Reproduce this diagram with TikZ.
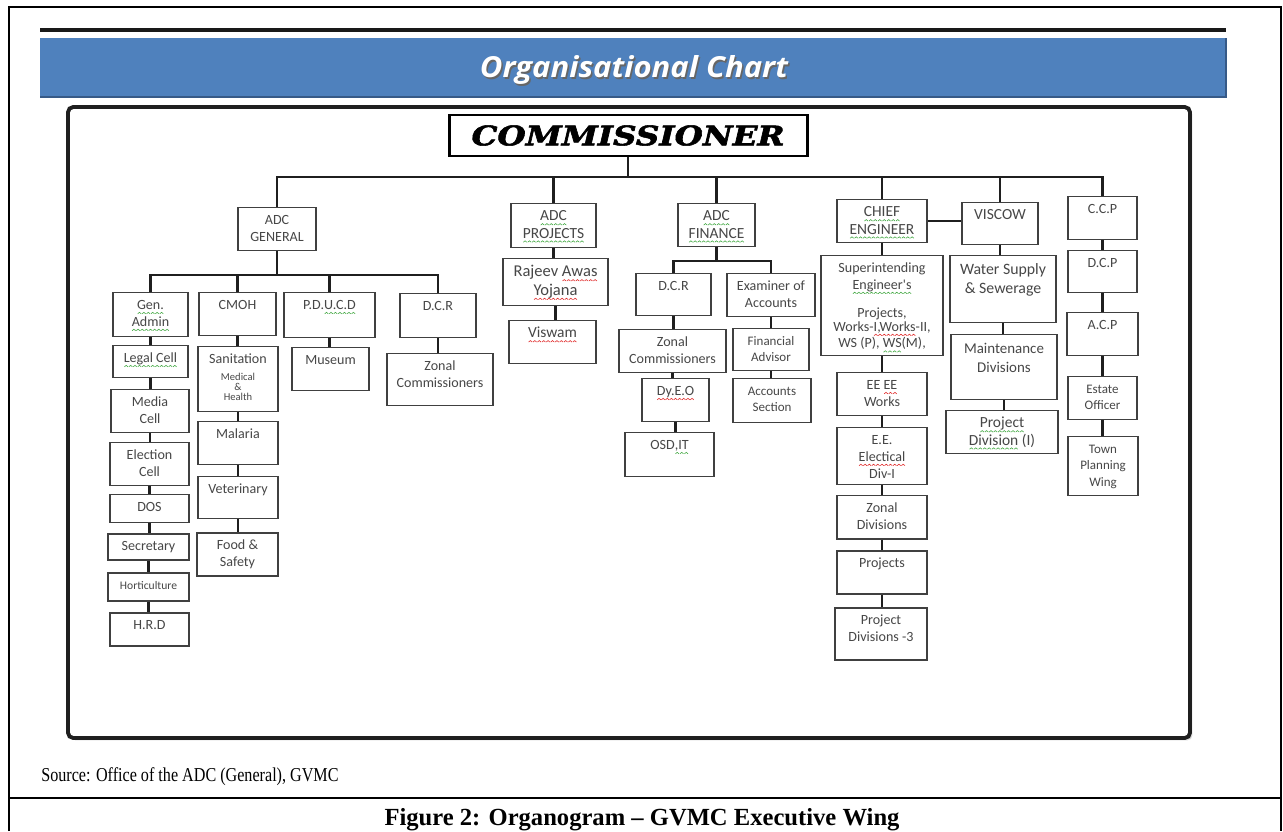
\documentclass[tikz,border=0pt]{standalone}
\usepackage{fontspec}
\usepackage{graphicx}
\usetikzlibrary{shadows}
\setmainfont{Liberation Serif}
\newfontfamily\unitfont{Carlito}
\newfontfamily\bannerfont{Open Sans}
\newfontfamily\commfont[BoldItalicFeatures={FakeBold=2}]{DejaVu Serif}
\definecolor{bannerBlue}{RGB}{79,129,189}
\definecolor{bannerEdge}{RGB}{55,90,135}
\colorlet{boxGray}{black!75}
\colorlet{textGray}{black!72}
\colorlet{lineDark}{black!88}
\definecolor{squigGreen}{RGB}{70,170,70}
\definecolor{squigRed}{RGB}{225,45,45}
\newlength{\px}\setlength{\px}{0.02cm}
% box text sits at the top of each cell
\newcommand{\orgcell}[3]{\parbox[t][#2\px][t]{#1\px}{\centering\vspace*{5\px}\strut#3\par}}
% spell-check style wavy underlines
\newcommand{\squig}[2]{\leavevmode\setbox0\hbox{#2}%
	\rlap{\raisebox{-2.4pt}{\hbox to\wd0{\xleaders\hbox{\tikz[baseline=0pt]\draw[#1, line width=0.35pt, x=1pt, y=1pt]
		(0,0) -- (1,0.8) -- (2,0);}\hfill}}}\box0\relax}
\newcommand{\gsq}[1]{\squig{squigGreen}{#1}}
\newcommand{\rsq}[1]{\squig{squigRed}{#1}}

\begin{document}
\begin{tikzpicture}[x=0.02cm, y=-0.02cm,
		unit/.style={draw=boxGray, line width=0.85pt, fill=white, inner sep=0pt, anchor=north,
			text=textGray, font=\unitfont\fontsize{8}{9.6}\selectfont},
		unitbig/.style={font=\unitfont\fontsize{8.8}{9.8}\selectfont},
		unitsmall/.style={font=\unitfont\fontsize{7.4}{9.4}\selectfont},
		commbox/.style={draw=black, line width=1.7pt, fill=white, inner sep=0pt,
			minimum width=358\px, minimum height=41\px},
		link/.style={draw=lineDark, line width=1.4pt},
		rule/.style={line width=0.6pt},
		rulethick/.style={line width=1.4pt}]
		\useasboundingbox (0,0) rectangle (1283,831);
		%%%%%%%%%%%%% page rules
		\draw[rule] (9,831) -- (9,7) -- (1281,7) -- (1281,831);
		\draw[rule] (9,798) -- (1281,798);
		\draw[rulethick] (9,7) -- (28,7); \draw[rulethick] (1231,7) -- (1281,7);
		\draw[rulethick] (9,798) -- (28,798); \draw[rulethick] (1231,798) -- (1281,798);
		%%%%%%%%%%%%% banner
		\draw[line width=1.9pt, black!90] (40,30) -- (1226,30);
		\fill[bannerBlue] (40,38) rectangle (1226,98);
		\draw[bannerEdge, line width=1pt] (40,97) -- (1226,97) -- (1226,38);
		\node[anchor=base, inner sep=0pt, text=black!60] (titleshade) at (635.5,79.5)
			{\resizebox{308\px}{22\px}{\bannerfont\bfseries\itshape Organisational Chart}};
		\node[anchor=base, inner sep=0pt, text=white] (title) at (634,78)
			{\resizebox{308\px}{22\px}{\bannerfont\bfseries\itshape Organisational Chart}};
		%%%%%%%%%%%%% frame
		\draw[line width=2.2pt, black!88, fill=white, rounded corners=3pt,
			drop shadow={shadow xshift=1.4pt, shadow yshift=-1.4pt, opacity=0.3}] (68,107) rectangle (1190,738);
		%%%%%%%%%%%%% top
		\node[commbox] (comm) at (628,135.5) {\resizebox{313\px}{20\px}{\commfont\bfseries\itshape COMMISSIONER}};
		\coordinate (bus) at (633,177);
		%%%%%%%%%%%%% ADC general
		\node[unit] (adcgen) at (277,207) {\orgcell{78}{43}{ADC\\GENERAL}};
		\coordinate (genbus) at (276,275);
		\node[unit] (genadmin) at (150.5,292) {\orgcell{75}{44}{\gsq{Gen.}\\\gsq{Admin}}};
		\node[unit] (legal) at (150.5,345) {\orgcell{75}{32}{\gsq{Legal Cell}}};
		\node[unit] (media) at (150,389) {\orgcell{78}{43}{Media\\Cell}};
		\node[unit] (elect) at (149.5,442) {\orgcell{79}{43}{Election\\Cell}};
		\node[unit] (dos) at (149.5,494) {\orgcell{79}{28}{DOS}};
		\node[unit] (secy) at (148.5,533) {\orgcell{81}{26}{Secretary}};
		\node[unit, font=\unitfont\fontsize{6.6}{9.6}\selectfont] (hort) at (148.5,572) {\orgcell{81}{28}{Horticulture}};
		\node[unit] (hrd) at (149.5,612) {\orgcell{79}{33}{H.R.D}};
		\node[unit] (cmoh) at (237.5,292) {\orgcell{77}{43}{CMOH}};
		\node[unit] (sanit) at (238,346) {\orgcell{80}{65}{Sanitation\par
			\vspace{1.5pt}{\fontsize{6}{5.8}\selectfont Medical\\\&\\Health\par}}};
		\node[unit] (malaria) at (238,421) {\orgcell{80}{43}{Malaria}};
		\node[unit] (vet) at (238,476) {\orgcell{80}{42}{Veterinary}};
		\node[unit] (food) at (237.5,532) {\orgcell{81}{43}{Food \&\\Safety}};
		\node[unit] (pducd) at (329.5,292) {\orgcell{91}{45}{P.D.\gsq{U.C.D}}};
		\node[unit] (museum) at (330.5,347) {\orgcell{77}{43}{Museum}};
		\node[unit] (dcrg) at (438,293) {\orgcell{76}{44}{D.C.R}};
		\node[unit] (zonalg) at (440,353) {\orgcell{106}{52}{Zonal\\Commissioners}};
		%%%%%%%%%%%%% ADC projects
		\node[unit, unitbig] (adcproj) at (553.5,203) {\orgcell{85}{44}{\gsq{ADC}\\\gsq{PROJECTS}}};
		\node[unit, font=\unitfont\fontsize{9.4}{10.6}\selectfont] (rajeev) at (555.5,258) {\orgcell{105}{47}{Rajeev \rsq{Awas}\\\rsq{Yojana}}};
		\node[unit, unitbig] (viswam) at (552.5,320) {\orgcell{87}{43}{\rsq{Viswam}}};
		%%%%%%%%%%%%% ADC finance
		\node[unit, unitbig] (adcfin) at (716.5,203) {\orgcell{77}{43}{\gsq{ADC}\\\gsq{FINANCE}}};
		\coordinate (finbus) at (715,261);
		\node[unit] (dcrf) at (673.5,273) {\orgcell{75}{42}{D.C.R}};
		\node[unit] (zonalf) at (672.5,329) {\orgcell{107}{43}{Zonal\\Commissioners}};
		\node[unit] (dyeo) at (675.5,378) {\orgcell{67}{43}{\rsq{Dy.E.O}}};
		\node[unit] (osd) at (669.5,432) {\orgcell{89}{44}{OSD\gsq{,IT}}};
		\node[unit] (exam) at (771,273) {\orgcell{88}{43}{Examiner of\\Accounts}};
		\node[unit, unitsmall] (fadv) at (771,328) {\orgcell{76}{42}{Financial\\Advisor}};
		\node[unit, unitsmall] (accs) at (772,378) {\orgcell{78}{44}{Accounts\\Section}};
		%%%%%%%%%%%%% chief engineer
		\node[unit, unitbig] (chief) at (882,199) {\orgcell{90}{43}{\gsq{CHIEF}\\\gsq{ENGINEER}}};
		\node[unit] (se) at (882,255) {\orgcell{122}{100}{Superintending\\\gsq{Engineer's}\par
			\vspace{7.5pt}{\fontsize{8}{8.2}\selectfont Projects,\\Works-\rsq{I,Works}-II,\\WS (P), \gsq{WS}(M),\par}}};
		\node[unit] (eeworks) at (882,372) {\orgcell{90}{43}{EE \rsq{EE}\\Works}};
		\node[unit] (eeelec) at (882,427) {\orgcell{90}{57}{E.E.\\\rsq{Electical}\\Div-I}};
		\node[unit] (zonald) at (882,495) {\orgcell{90}{43}{Zonal\\Divisions}};
		\node[unit] (projects) at (882,550) {\orgcell{90}{43}{Projects}};
		\node[unit] (projdiv) at (881,607) {\orgcell{92}{52}{Project\\Divisions -3}};
		%%%%%%%%%%%%% viscow
		\node[unit, unitbig] (viscow) at (1000,202) {\orgcell{76}{42}{VISCOW}};
		\node[unit, font=\unitfont\fontsize{9}{10.8}\selectfont] (water) at (1003,255) {\orgcell{106}{67}{Water Supply\\\& Sewerage}};
		\node[unit, font=\unitfont\fontsize{8.5}{10.8}\selectfont] (maint) at (1004,334) {\orgcell{106}{65}{Maintenance\\Divisions}};
		\node[unit, unitbig] (pdiv1) at (1002,410) {\orgcell{112}{43}{\gsq{Project}\\\gsq{Division} (I)}};
		%%%%%%%%%%%%% police wing
		\node[unit] (ccp) at (1102.5,196) {\orgcell{69}{43}{C.C.P}};
		\node[unit] (dcp) at (1102.5,250) {\orgcell{69}{42}{D.C.P}};
		\node[unit] (acp) at (1102.5,312) {\orgcell{71}{43}{A.C.P}};
		\node[unit, unitsmall] (estate) at (1102.5,376) {\orgcell{69}{43}{Estate\\Officer}};
		\node[unit, unitsmall] (town) at (1103,436) {\orgcell{70}{59}{Town\\Planning\\Wing}};
		%%%%%%%%%%%%% connectors
		\draw[link] (comm.south) to (comm.south |- bus);
		\draw[link] (adcgen.north) -- (adcgen.north |- bus) -- (ccp.north |- bus) -- (ccp.north);
		\foreach \n in {adcproj, adcfin, chief, viscow}
			\draw[link] (\n.north) to (\n.north |- bus);
		\draw[link] (adcgen.south) to (adcgen.south |- genbus);
		\draw[link] (genadmin.north) -- (genadmin.north |- genbus) -- (dcrg.north |- genbus) -- (dcrg.north);
		\foreach \n in {cmoh, pducd}
			\draw[link] (\n.north) to (\n.north |- genbus);
		\draw[link] (adcfin.south) to (adcfin.south |- finbus);
		\draw[link] (dcrf.north) -- (dcrf.north |- finbus) -- (exam.north |- finbus) -- (exam.north);
		\draw[link] (chief.east) to (chief.east -| viscow.west);
		\foreach \a/\b in {genadmin/legal, legal/media, media/elect, elect/dos, dos/secy, secy/hort, hort/hrd,
				cmoh/sanit, sanit/malaria, malaria/vet, vet/food, pducd/museum, dcrg/zonalg,
				adcproj/rajeev, rajeev/viswam, dcrf/zonalf, zonalf/dyeo, dyeo/osd, exam/fadv, fadv/accs,
				chief/se, se/eeworks, eeworks/eeelec, eeelec/zonald, zonald/projects, projects/projdiv,
				viscow/water, water/maint, maint/pdiv1, ccp/dcp, dcp/acp, acp/estate, estate/town}
			\draw[link] (\a.south) to (\a.south |- \b.north);
		%%%%%%%%%%%%% notes
		\node[anchor=base west, inner sep=0pt] (source) at (41,781)
			{\scalebox{0.82}[1]{\fontsize{11.2}{13}\selectfont Source: Office of the ADC (General), GVMC}};
		\node[anchor=base, inner sep=0pt] (caption) at (642,825)
			{\fontsize{14}{15}\selectfont\bfseries Figure 2: Organogram -- GVMC Executive Wing};
\end{tikzpicture}
\end{document}
